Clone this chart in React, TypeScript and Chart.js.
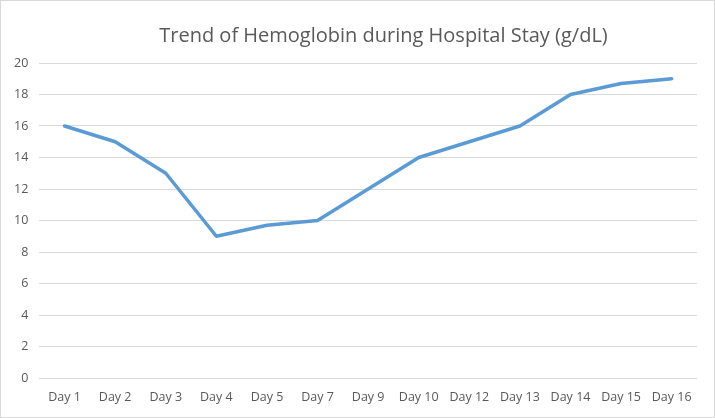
import React, { useEffect, useRef } from "react";
import { Chart, registerables } from "chart.js";

Chart.register(...registerables);

const categories = ["Day 1", "Day 2", "Day 3", "Day 4", "Day 5", "Day 7", "Day 9", "Day 10", "Day 12", "Day 13", "Day 14", "Day 15", "Day 16"];
const hemoglobin = [16, 15, 13, 9, 9.7, 10, 12, 14, 15, 16, 18, 18.7, 19];
const yMin = 0;
const yMax = 20;
const yStep = 2;
const titleText = "Trend of Hemoglobin during Hospital Stay (g/dL)";

const FONT = "'Open Sans', 'Liberation Sans', sans-serif";
const TITLE_SIZE = 20;

const shiftedTitle = {
  id: "shiftedTitle",
  afterDraw(chart: any) {
    const t = chart.titleBlock;
    if (!t) return;
    const ctx = chart.ctx;
    ctx.save();
    ctx.fillStyle = "#595959";
    ctx.font = `normal ${TITLE_SIZE}px ${FONT}`;
    ctx.textAlign = "center";
    ctx.textBaseline = "middle";
    const cx = chart.width / 2 + 26;
    const cy = t.top + t.options.padding.top + (t.bottom - t.top - t.options.padding.top - t.options.padding.bottom) / 2;
    ctx.fillText(titleText, cx, cy);
    ctx.restore();
  },
};

export default function App() {
  const ref = useRef<HTMLCanvasElement | null>(null);
  useEffect(() => {
    document.body.style.margin = "0";
    if (!ref.current) return;
    const chart = new Chart(ref.current, {
      type: "line",
      data: {
        labels: categories,
        datasets: [
          {
            data: hemoglobin,
            borderColor: "#5B9BD5",
            borderWidth: 3.5,
            pointRadius: 0,
            tension: 0,
            fill: false,
            borderCapStyle: "round",
            borderJoinStyle: "round",
          },
        ],
      },
      options: {
        animation: false,
        responsive: false,
        layout: { padding: { left: 2, right: 17, top: 0, bottom: 0 } },
        plugins: {
          legend: { display: false },
          tooltip: { enabled: false },
          title: {
            display: true,
            text: titleText,
            color: "rgba(0,0,0,0)",
            font: { family: FONT, size: TITLE_SIZE, weight: "normal" },
            padding: { top: 23, bottom: 15 },
          },
        },
        scales: {
          x: {
            offset: true,
            grid: { display: false, drawTicks: false },
            border: { display: false },
            ticks: {
              color: "#595959",
              font: { family: FONT, size: 12.5 },
              padding: 12,
              maxRotation: 0,
              autoSkip: false,
            },
          },
          y: {
            min: yMin,
            max: yMax,
            grid: { color: "#d9d9d9", lineWidth: 1, drawTicks: false },
            border: { display: false },
            ticks: {
              stepSize: yStep,
              color: "#595959",
              font: { family: FONT, size: 12.5 },
              padding: 11,
            },
          },
        },
      },
      plugins: [shiftedTitle],
    });
    return () => chart.destroy();
  }, []);
  return (
    <div
      style={{
        position: "absolute",
        left: 0,
        top: 0,
        width: 715,
        height: 418,
        boxSizing: "border-box",
        border: "1px solid #d9d9d9",
        background: "#fff",
      }}
    >
      <canvas ref={ref} width={713} height={416} style={{ display: "block" }} />
    </div>
  );
}
